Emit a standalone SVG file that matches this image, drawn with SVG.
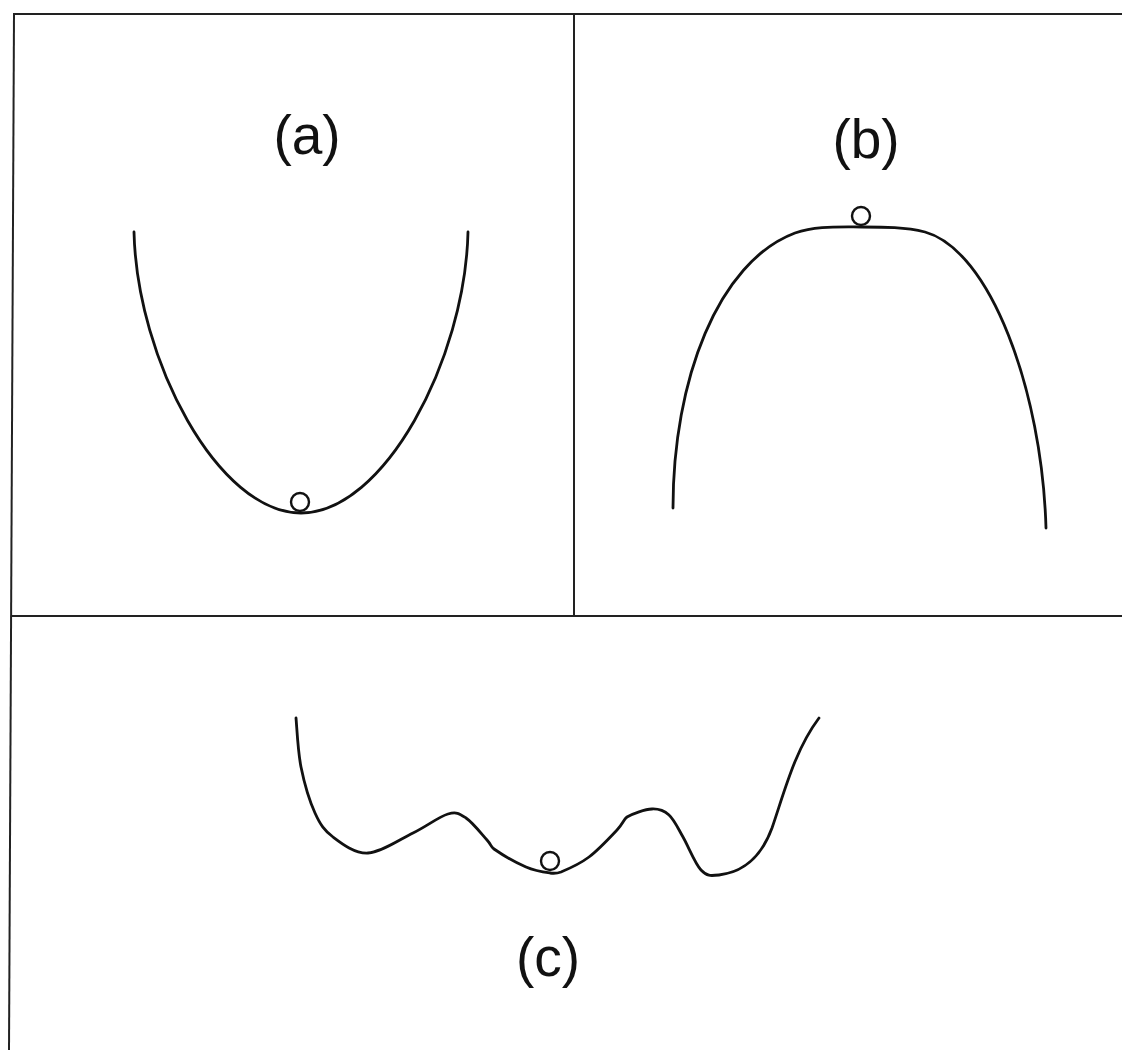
<svg xmlns="http://www.w3.org/2000/svg" width="1122" height="1050" viewBox="0 0 1122 1050">
<style>
.frame{stroke:#222;stroke-width:2;fill:none}
.curve{stroke:#111;stroke-width:2.8;fill:none;stroke-linecap:round;stroke-linejoin:round}
.ball{stroke:#111;stroke-width:2.4;fill:#fff}
.lbl{font-family:"Liberation Sans",Arial,sans-serif;font-size:55px;fill:#111;text-anchor:middle}
</style>
<rect width="1122" height="1050" fill="#fff"/>
<g id="frame">
<line class="frame" x1="13" y1="14" x2="1122" y2="14"/>
<line class="frame" x1="14" y1="14" x2="9" y2="1050"/>
<line class="frame" x1="574" y1="14" x2="574" y2="616"/>
<line class="frame" x1="11" y1="616" x2="1122" y2="616"/>
</g>
<g id="panel-a">
<path class="curve" d="M134,232 C137,360 218,513 301,513 C384,513 465,360 468,232"/>
<circle class="ball" cx="300" cy="502" r="9"/>
<text class="lbl" x="307" y="154">(a)</text>
</g>
<g id="panel-b">
<path class="curve" d="M673,508 C673,380 718,262 795,233 C815,226 835,227 862,227 C885,227 905,227 925,232 C990,250 1042,390 1046,528"/>
<circle class="ball" cx="861" cy="216" r="9"/>
<text class="lbl" x="866" y="158">(b)</text>
</g>
<g id="panel-c">
<path class="curve" d="M296,718 C296.8,726.2 297.8,751.2 301,767 C304.2,782.8 309.7,801.3 315,813 C320.3,824.7 324.2,830.3 333,837 C341.8,843.7 354.7,853.7 368,853 C381.3,852.3 399.7,839.5 413,833 C426.3,826.5 439.2,816.5 448,814 C456.8,811.5 459.5,813.7 466,818 C472.5,822.3 482.3,834.8 487,840 C491.7,845.2 490.5,846.5 494,849 C500.5,853.5 516.7,863 526,867 C535.3,871 544.2,872.2 550,873 C555.8,873.8 557,873.5 561,872 C567.5,869.3 579.7,864 589,857 C598.3,850 610.7,836.7 617,830 C623.3,823.3 623.5,819.5 627,817 C632.8,813.5 645,809.3 652,809 C659,808.7 663.8,810.3 669,815 C674.2,819.7 677.7,827.8 683,837 C688.3,846.2 695,863.7 701,870 C707,876.3 710,876 719,875 C745,872 762,855 772,828 C785,790 795,750 819,718"/>
<circle class="ball" cx="550" cy="861" r="9"/>
<text class="lbl" x="548" y="976">(c)</text>
</g>
</svg>
